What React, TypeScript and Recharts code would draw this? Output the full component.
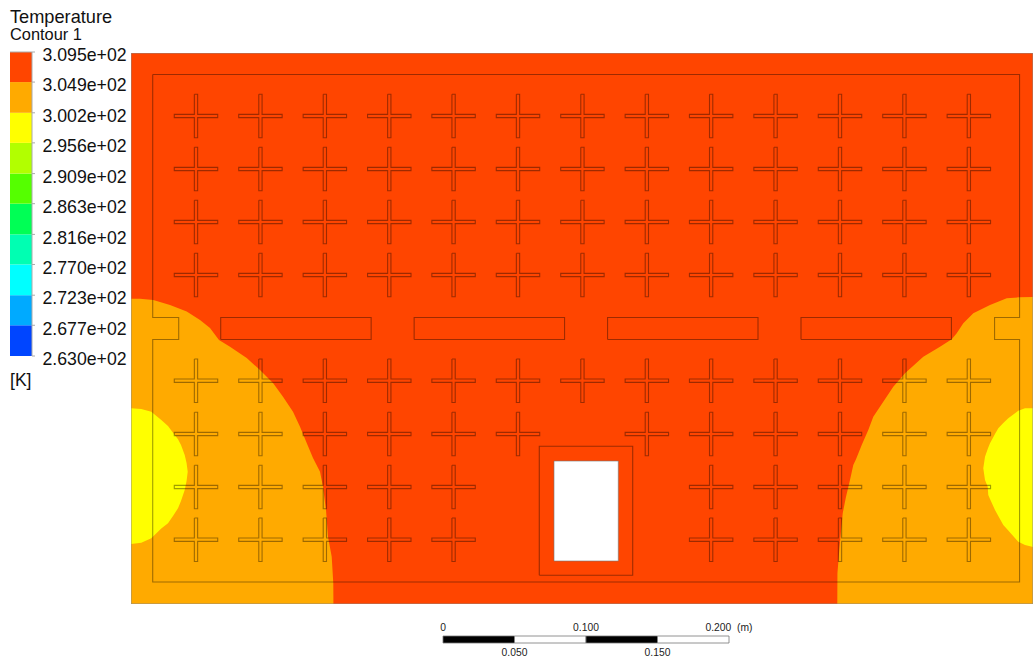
import React from 'react';
import { BarChart, Bar, ComposedChart, Area, Line, XAxis, YAxis, ReferenceLine } from 'recharts';

// Legend levels (K) and band colours, top band first
const levels = [309.5, 304.9, 300.2, 295.6, 290.9, 286.3, 281.6, 277.0, 272.3, 267.7, 263.0];
const bandColors = ['#ff4500', '#ffaa00', '#ffff00', '#b2ff00', '#55ff00', '#00ff55', '#00ffb2', '#00ffff', '#00aaff', '#0045ff'];

// Domain size in mm
const domainW = 631.4;
const domainH = 385.7;

// Temperature contour boundaries in mm: [x, y] or [x, low, high]
const leftWarmEdge = [[0, 213.7], [6.3, 213.7], [15.6, 212.8], [27.3, 209.3], [39, 204.8], [48.3, 198.8], [55.3, 193.2], [61.6, 184.8], [69.3, 180.1], [81, 172.2], [90.3, 163.8], [99.4, 154.7], [106.4, 145.1], [113.4, 134.6], [118.3, 124.1], [123, 112.7], [127.4, 102.2], [132.3, 92.6], [134.4, 82.1], [136.5, 65.8], [137.9, 47.1], [140.5, 33.1], [141.6, 14.7], [141.7, 0]];
const rightWarmEdge = [[494.4, 0], [494.5, 21.5], [495.8, 37.8], [498.2, 63.5], [500.5, 75.1], [503.3, 86.8], [505.6, 97.3], [507.5, 101.3], [511.5, 111.3], [516.1, 121.8], [519.6, 131.1], [526.6, 141.6], [533.6, 152.1], [541.8, 161.5], [554.6, 173.1], [566.3, 180.1], [574.5, 185.3], [578, 189.5], [582.6, 196.5], [589.6, 203.5], [601.3, 209.3], [613, 214], [621.8, 214.7], [631.4, 214.9]];
const leftCoolLobe = [[0, 42, 137], [7.2, 42.9, 136.5], [14.2, 46.1, 134.6], [21.2, 52.9, 128.8], [25.9, 56.5, 124.6], [29.4, 61.6, 119.9], [32.9, 67, 115.3], [35, 72.1, 111.3], [37.6, 79.8, 104.3], [38.9, 86.1, 98.7], [39.7, 92.6, 92.6]];
const rightCoolLobe = [[596.6, 95, 95], [597.8, 86.8, 103.1], [599.7, 82.1, 108.5], [600.1, 76.3, 109.6], [601.3, 73.5, 112.5], [604.8, 65.8, 119], [607.1, 61.6, 123], [610.6, 55.3, 126.7], [614.1, 51.5, 130], [621.1, 43.6, 135.3], [625.8, 41.3, 137], [631.4, 39.9, 137]];
const openingBand = [[296.1, 30.1, 100.1], [341.1, 30.1, 100.1]];

// Geometry in mm
const crossCols = [45.5, 90.6, 135.7, 180.8, 225.8, 270.9, 316, 361.1, 406.1, 451.2, 496.3, 541.4, 586.5];
const crossRows = [
  { y: 341.6, cols: [0, 1, 2, 3, 4, 5, 6, 7, 8, 9, 10, 11, 12] },
  { y: 304.5, cols: [0, 1, 2, 3, 4, 5, 6, 7, 8, 9, 10, 11, 12] },
  { y: 267.4, cols: [0, 1, 2, 3, 4, 5, 6, 7, 8, 9, 10, 11, 12] },
  { y: 230.3, cols: [0, 1, 2, 3, 4, 5, 6, 7, 8, 9, 10, 11, 12] },
  { y: 156.3, cols: [0, 1, 2, 3, 4, 5, 6, 7, 8, 9, 10, 11, 12] },
  { y: 119, cols: [0, 1, 2, 3, 4, 5, 7, 8, 9, 10, 11, 12] },
  { y: 81.9, cols: [0, 1, 2, 3, 4, 8, 9, 10, 11, 12] },
  { y: 45, cols: [0, 1, 2, 3, 4, 8, 9, 10, 11, 12] },
];
const crossHalfLength = 15.2;
const crossHalfThick = 1.15;
const slotStarts = [62.8, 198.2, 333.6, 469];
const slotWidth = 105.3;
const slotBottom = 185.2;
const slotTop = 200.6;
const innerOutline = [[15.2, 370.7], [622, 370.7], [622, 200.6], [604.5, 200.6], [604.5, 185.2], [622, 185.2], [622, 15.4], [15.2, 15.4], [15.2, 185.2], [33.4, 185.2], [33.4, 200.6], [15.2, 200.6], [15.2, 370.7]];
const surround = [[285.8, 20.1], [351.2, 20.1], [351.2, 110.4], [285.8, 110.4], [285.8, 20.1]];
const openingOutline = [[296.1, 30.1], [341.1, 30.1], [341.1, 100.1], [296.1, 100.1], [296.1, 30.1]];
const frame = [[0, 0], [domainW, 0], [domainW, domainH], [0, domainH], [0, 0]];

// Scale bar
const scaleSegments = [0.05, 0.05, 0.05, 0.05];
const scaleTopTicks = [0, 0.1, 0.2];
const scaleBottomTicks = [0.05, 0.15];

const toPoints = (pts: number[][]) => pts.map(([x, y]) => ({ x, y }));
const toBand = (pts: number[][]) => pts.map(([x, lo, hi]) => ({ x, band: [lo, hi] }));

const crossPath = (cx: number, cy: number) => {
  const l = crossHalfLength;
  const t = crossHalfThick;
  return [
    [cx - t, cy + l], [cx + t, cy + l], [cx + t, cy + t], [cx + l, cy + t], [cx + l, cy - t], [cx + t, cy - t],
    [cx + t, cy - l], [cx - t, cy - l], [cx - t, cy - t], [cx - l, cy - t], [cx - l, cy + t], [cx - t, cy + t], [cx - t, cy + l],
  ];
};
const rectPath = (x0: number, x1: number, y0: number, y1: number) => [[x0, y0], [x1, y0], [x1, y1], [x0, y1], [x0, y0]];
const joinPaths = (paths: number[][][]) => {
  const out: { x: number; y: number | null }[] = [];
  paths.forEach((p) => {
    toPoints(p).forEach((q) => out.push(q));
    out.push({ x: p[0][0], y: null });
  });
  return out;
};

const crossPaths = crossRows.flatMap((r) => r.cols.map((c) => crossPath(crossCols[c], r.y)));
const slotPaths = slotStarts.map((s) => rectPath(s, s + slotWidth, slotBottom, slotTop));
const wallData = joinPaths([...crossPaths, ...slotPaths, innerOutline, surround]);

const background = [{ x: 0, y: domainH }, { x: domainW, y: domainH }];

// Legend row: hidden base plus band thickness, bottom band first
const legendRow: Record<string, number | string> = { name: 'T', base: levels[levels.length - 1] };
const legendKeys: { key: string; color: string }[] = [];
for (let i = bandColors.length - 1; i >= 0; i--) {
  const key = `b${i}`;
  legendRow[key] = levels[i] - levels[i + 1];
  legendKeys.push({ key, color: bandColors[i] });
}

const scaleRow: Record<string, number | string> = { name: 'm' };
scaleSegments.forEach((v, i) => { scaleRow[`s${i}`] = v; });

const fmtLevel = (v: number) => v.toExponential(3).replace(/e\+(\d)$/, 'e+0$1');
const fmtScale = (v: number) => (v === 0 ? '0' : v === 0.2 ? '0.200\u00a0\u00a0(m)' : v.toFixed(3));

const font = '"Liberation Sans", Arial, sans-serif';
const lineProps = { dot: false, activeDot: false, isAnimationActive: false, legendType: 'none' as const, type: 'linear' as const, dataKey: 'y', connectNulls: false };
const areaProps = { isAnimationActive: false, legendType: 'none' as const, type: 'linear' as const, stroke: 'none', fillOpacity: 1, dot: false, activeDot: false };

const ScaleTick = (props: any) => {
  const v = props.payload.value;
  const below = scaleBottomTicks.includes(v);
  return (
    <text x={props.x} y={props.y + (below ? 27.5 : 3)} textAnchor="middle" fontSize={10.3} fill="#222" fontFamily={font}>
      {fmtScale(v)}
    </text>
  );
};

export default function App() {
  return (
    <div style={{ position: 'absolute', left: 0, top: 0, width: 1033, height: 656, background: '#fff', fontFamily: font, overflow: 'hidden' }}>
      <div style={{ position: 'absolute', left: 10, top: 7, fontSize: 18.2, lineHeight: '20px', color: '#111' }}>Temperature</div>
      <div style={{ position: 'absolute', left: 10, top: 24, fontSize: 16.4, lineHeight: '20px', color: '#111' }}>Contour 1</div>
      <div style={{ position: 'absolute', left: 10, top: 370, fontSize: 17.6, lineHeight: '20px', color: '#111' }}>[K]</div>

      <div style={{ position: 'absolute', left: 0, top: 0 }}>
        <ComposedChart width={1033} height={656} margin={{ left: 131, top: 53, right: 0, bottom: 52 }}>
          <XAxis hide type="number" dataKey="x" domain={[0, domainW]} allowDataOverflow />
          <YAxis hide type="number" domain={[0, domainH]} allowDataOverflow />
          <Area {...areaProps} data={background} dataKey="y" fill="#ff4500" />
          <Area {...areaProps} data={toPoints(leftWarmEdge)} dataKey="y" fill="#ffaa00" />
          <Area {...areaProps} data={toPoints(rightWarmEdge)} dataKey="y" fill="#ffaa00" />
          <Area {...areaProps} data={toBand(leftCoolLobe)} dataKey="band" fill="#ffff00" />
          <Area {...areaProps} data={toBand(rightCoolLobe)} dataKey="band" fill="#ffff00" />
          <Area {...areaProps} data={toBand(openingBand)} dataKey="band" fill="#ffffff" />
          <Line {...lineProps} data={wallData} stroke="#000" strokeOpacity={0.38} strokeWidth={1.1} />
          <Line {...lineProps} data={toPoints(openingOutline)} stroke="#777" strokeOpacity={0.6} strokeWidth={1} />
          <Line {...lineProps} data={toPoints(frame)} stroke="#8a8a8a" strokeOpacity={0.9} strokeWidth={1} />
        </ComposedChart>
      </div>

      <div style={{ position: 'absolute', left: 0, top: 0 }}>
        <BarChart width={140} height={400} data={[legendRow]} barCategoryGap={0} margin={{ left: 10, top: 52, right: 0, bottom: 44 }}>
          <XAxis hide dataKey="name" />
          <YAxis
            orientation="right"
            width={108}
            type="number"
            domain={[levels[levels.length - 1], levels[0]]}
            allowDataOverflow
            ticks={levels}
            interval={0}
            tickFormatter={fmtLevel}
            tick={{ fontSize: 17.7, fill: '#111', fontFamily: font, dy: 3 }}
            tickSize={3}
            tickMargin={7.5}
            stroke="#aaaaaa"
          />
          <Bar dataKey="base" stackId="l" fill="none" isAnimationActive={false} legendType="none" />
          {legendKeys.map((k) => (
            <Bar key={k.key} dataKey={k.key} stackId="l" fill={k.color} isAnimationActive={false} legendType="none" />
          ))}
          <ReferenceLine y={levels[0]} stroke="#aaaaaa" />
        </BarChart>
      </div>

      <div style={{ position: 'absolute', left: 420, top: 615 }}>
        <BarChart layout="vertical" width={340} height={41} data={[scaleRow]} barCategoryGap={0} margin={{ left: 23, top: 0, right: 31, bottom: 13 }}>
          <YAxis hide type="category" dataKey="name" />
          <XAxis
            xAxisId="top"
            orientation="top"
            type="number"
            height={21}
            domain={[0, 0.2]}
            ticks={[...scaleTopTicks, ...scaleBottomTicks].sort((a, b) => a - b)}
            interval={0}
            axisLine={false}
            tickLine={false}
            tick={ScaleTick}
            tickMargin={2}
          />
          {scaleSegments.map((_, i) => (
            <Bar key={i} xAxisId="top" dataKey={`s${i}`} stackId="s" fill={i % 2 === 0 ? '#000' : '#fff'} stroke="#777" strokeWidth={0.8} isAnimationActive={false} legendType="none" />
          ))}
        </BarChart>
      </div>
    </div>
  );
}
